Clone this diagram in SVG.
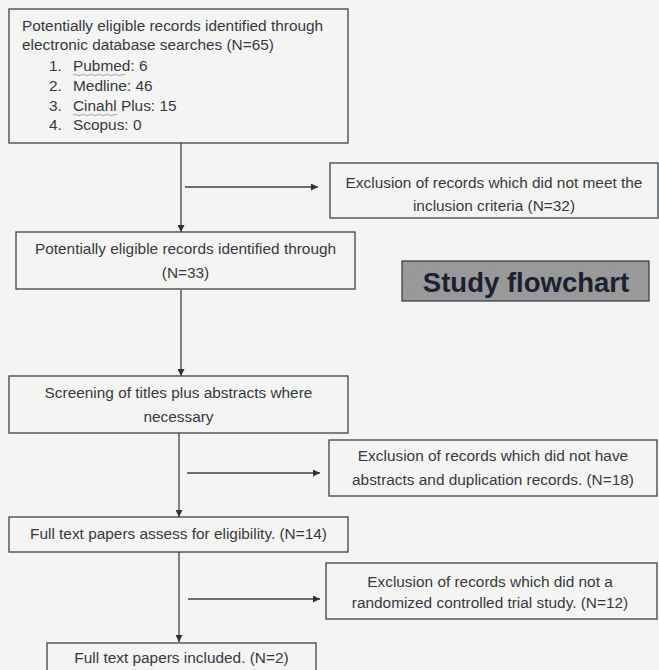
<svg xmlns="http://www.w3.org/2000/svg" width="659" height="670" viewBox="0 0 659 670">
<defs>
<marker id="ah" viewBox="0 0 10 10" refX="10" refY="5" markerWidth="7" markerHeight="7" markerUnits="userSpaceOnUse" orient="auto">
<path d="M0,0 L10,5 L0,10 z" fill="#2a3140"/>
</marker>
<pattern id="hatch" width="3" height="3" patternUnits="userSpaceOnUse" patternTransform="rotate(45)">
<rect width="3" height="3" fill="#9c9c9c"/>
<line x1="0" y1="0" x2="0" y2="3" stroke="#8a8a8a" stroke-width="1"/>
</pattern>
</defs>
<style>
.box{fill:none;stroke:#3d4148;stroke-width:1.3}
.t{font-family:"Liberation Sans",Arial,sans-serif;font-size:15.4px;fill:#36393e}
.c{text-anchor:middle}
.conn{stroke:#3d4148;stroke-width:1.3;fill:none}
.sq{stroke:#8a8f99;stroke-width:0.8;fill:none}
</style>
<rect width="659" height="670" fill="#f4f5f3"/>
<g id="connectors">
<line class="conn" x1="181" y1="143" x2="181" y2="232" marker-end="url(#ah)"/>
<line class="conn" x1="185" y1="187" x2="318" y2="187" marker-end="url(#ah)"/>
<line class="conn" x1="181" y1="290" x2="181" y2="376" marker-end="url(#ah)"/>
<line class="conn" x1="179" y1="433" x2="179" y2="517" marker-end="url(#ah)"/>
<line class="conn" x1="187" y1="473" x2="320" y2="473" marker-end="url(#ah)"/>
<line class="conn" x1="179" y1="552" x2="179" y2="642" marker-end="url(#ah)"/>
<line class="conn" x1="188" y1="599" x2="320" y2="599" marker-end="url(#ah)"/>
</g>
<g id="n1">
<rect class="box" x="9" y="9" width="339" height="134"/>
<text class="t" x="22" y="31">Potentially eligible records identified through</text>
<text class="t" x="22" y="50">electronic database searches (N=65)</text>
<text class="t" x="49" y="71">1.</text><text class="t" x="73" y="71">Pubmed: 6</text>
<text class="t" x="49" y="91">2.</text><text class="t" x="73" y="91">Medline: 46</text>
<text class="t" x="49" y="111">3.</text><text class="t" x="73" y="111">Cinahl Plus: 15</text>
<text class="t" x="49" y="130">4.</text><text class="t" x="73" y="130">Scopus: 0</text>
<path class="sq" d="M73,75 q2,-1.5 4,0 t4,0 t4,0 t4,0 t4,0 t4,0 t4,0 t4,0 t4,0 t4,0 t4,0 t4,0 t4,0"/>
<path class="sq" d="M73,115 q2,-1.5 4,0 t4,0 t4,0 t4,0 t4,0 t4,0 t4,0 t4,0 t4,0 t4,0 t4,0"/>
</g>
<g id="excl1">
<rect class="box" x="330" y="163" width="328" height="55"/>
<text class="t c" x="494" y="188">Exclusion of records which did not meet the</text>
<text class="t c" x="494" y="211">inclusion criteria (N=32)</text>
</g>
<g id="n2">
<rect class="box" x="16" y="232" width="339" height="57"/>
<text class="t c" x="185.5" y="254">Potentially eligible records identified through</text>
<text class="t c" x="185.5" y="278">(N=33)</text>
</g>
<g id="title">
<rect x="402" y="261" width="247" height="40" fill="url(#hatch)" stroke="#2e3440" stroke-width="1.2"/>
<text x="526" y="292" text-anchor="middle" font-family="'Liberation Sans',Arial,sans-serif" font-weight="bold" font-size="27.5" fill="#1b2130">Study flowchart</text>
</g>
<g id="n3">
<rect class="box" x="9" y="376" width="339" height="57"/>
<text class="t c" x="178.5" y="398">Screening of titles plus abstracts where</text>
<text class="t c" x="178.5" y="422">necessary</text>
</g>
<g id="excl2">
<rect class="box" x="329" y="440" width="328" height="56"/>
<text class="t c" x="493" y="461">Exclusion of records which did not have</text>
<text class="t c" x="493" y="485">abstracts and duplication records. (N=18)</text>
</g>
<g id="n4">
<rect class="box" x="9" y="517" width="339" height="35"/>
<text class="t c" x="178.5" y="539">Full text papers assess for eligibility. (N=14)</text>
</g>
<g id="excl3">
<rect class="box" x="326" y="563" width="331" height="56"/>
<text class="t c" x="490" y="587">Exclusion of records which did not a</text>
<text class="t c" x="490" y="608">randomized controlled trial study. (N=12)</text>
</g>
<g id="n5">
<rect class="box" x="47" y="643" width="269" height="35"/>
<text class="t c" x="181.5" y="663">Full text papers included. (N=2)</text>
</g>
</svg>
